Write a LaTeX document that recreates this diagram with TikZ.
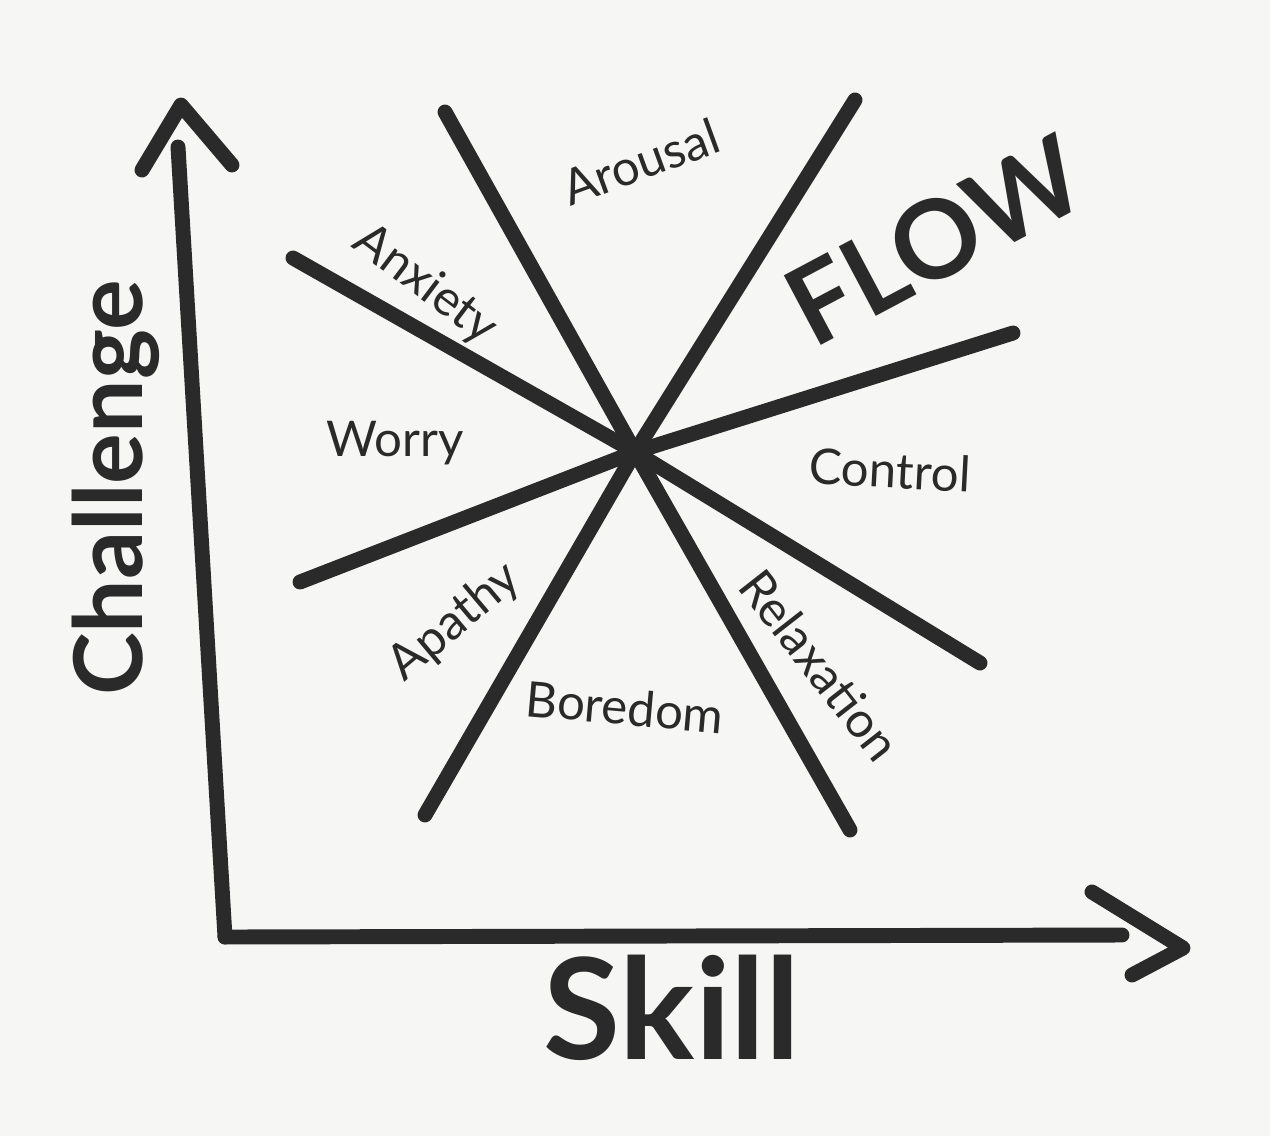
\documentclass[tikz,border=0pt]{standalone}
\usepackage{xcolor}
\usepackage{fontspec}
\setmainfont{Lato}
\usepackage{tikz}
\usetikzlibrary{positioning,calc,backgrounds}

\definecolor{paper}{HTML}{F6F6F4}
\definecolor{ink}{HTML}{2A2A2A}

\begin{document}
\begin{tikzpicture}[
  x=0.02cm, y=-0.02cm,
  stroke/.style={draw=ink, line width=8.5pt, line cap=round, line join=round},
  zone/.style={text=ink, font=\fontsize{28}{30}\selectfont, inner sep=0pt},
  axislabel/.style={text=ink, font=\bfseries\fontsize{54}{56}\selectfont, inner sep=0pt}
]
  \fill[paper] (0,0) rectangle (1270,1136);
  \useasboundingbox (0,0) rectangle (1270,1136);

  % axes
  \coordinate (origin) at (225,937);
  \coordinate (ytop)   at (178,147);
  \coordinate (xend)   at (1122,935);
  \draw[stroke] (origin) -- (ytop);
  \draw[stroke] (origin) -- (xend);
  \draw[stroke] (142,170) -- (181,105) -- (232,165);
  \draw[stroke] (1092,892) -- (1183,948) -- (1132,975);

  % the four lines through the centre
  \coordinate (c) at (635,452);
  \coordinate (a1) at (445,112);  \coordinate (a2) at (850,830);
  \coordinate (b1) at (855,100);  \coordinate (b2) at (425,815);
  \coordinate (d1) at (293,258);  \coordinate (d2) at (980,663);
  \coordinate (e1) at (1013,333); \coordinate (e2) at (300,582);
  \draw[stroke] (a1) -- (c) -- (a2);
  \draw[stroke] (b1) -- (c) -- (b2);
  \draw[stroke] (d1) -- (c) -- (d2);
  \draw[stroke] (e1) -- (c) -- (e2);

  % zones
  \node[zone, rotate=20]  (arousal)    at (641,162) {Arousal};
  \node[zone, rotate=-37] (anxiety)    at (425,285) {Anxiety};
  \node[zone]             (worry)      at (395,443) {Worry};
  \node[zone, rotate=-3]  (control)    at (890,470) {Control};
  \node[zone, rotate=40]  (apathy)     at (455,622) {Apathy};
  \node[zone, rotate=-5]  (boredom)    at (625,707) {Boredom};
  \node[zone, rotate=-52] (relaxation) at (820,665) {Relaxation};
  \node[axislabel, font=\bfseries\fontsize{62}{64}\selectfont, rotate=28] (flow) at (935,240) {FLOW};

  % axis labels
  \node[axislabel, rotate=90] (challenge) at (116,488) {Challenge};
  \node[axislabel, font=\bfseries\fontsize{80}{82}\selectfont] (skill) at (672,1008) {Skill};
\end{tikzpicture}
\end{document}
